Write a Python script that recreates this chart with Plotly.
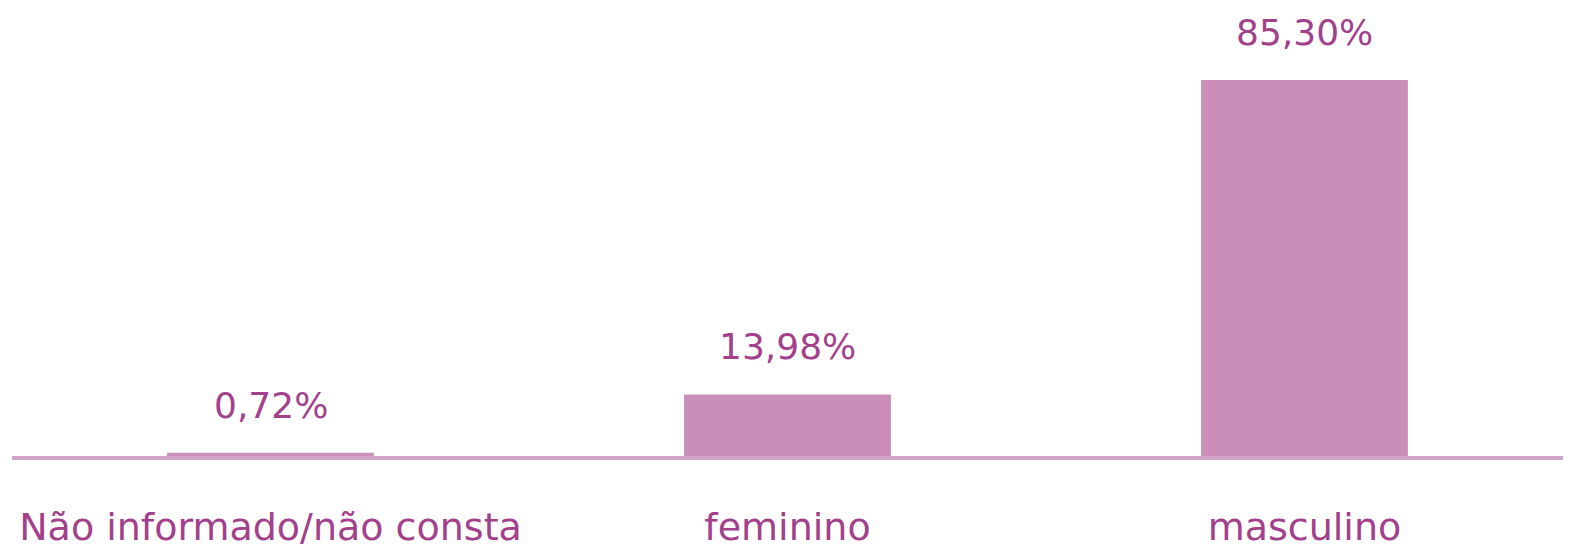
import plotly.graph_objects as go

categories = ["Não informado/não consta", "feminino", "masculino"]
values = [0.72, 13.98, 85.30]
labels = ["0,72%", "13,98%", "85,30%"]

bar_color = "#c98fb8"
text_color = "#a3408c"
axis_color = "#d4a3c8"

fig = go.Figure()
fig.add_trace(go.Bar(x=categories, y=values, marker=dict(color=bar_color, line=dict(width=0)),
                     hoverinfo="skip"))

for c, v, t in zip(categories, values, labels):
    fig.add_annotation(x=c, y=v, text=t, showarrow=False, yanchor="bottom", yshift=25,
                       font=dict(family="DejaVu Sans", size=36, color=text_color))

fig.update_layout(
    width=1555, height=540,
    margin=dict(l=4, r=0, t=10, b=92, autoexpand=False),
    plot_bgcolor="white", paper_bgcolor="white",
    bargap=0.6, showlegend=False,
    font=dict(family="DejaVu Sans", size=38, color=text_color),
)
fig.update_xaxes(showline=True, linewidth=4, linecolor=axis_color, showgrid=False, automargin=False,
                 ticks="", ticklabelstandoff=34, tickfont=dict(size=38, color=text_color))
fig.update_yaxes(visible=False, range=[0, 99.37], showgrid=False, zeroline=False, automargin=False)

fig.write_html("out.html")
